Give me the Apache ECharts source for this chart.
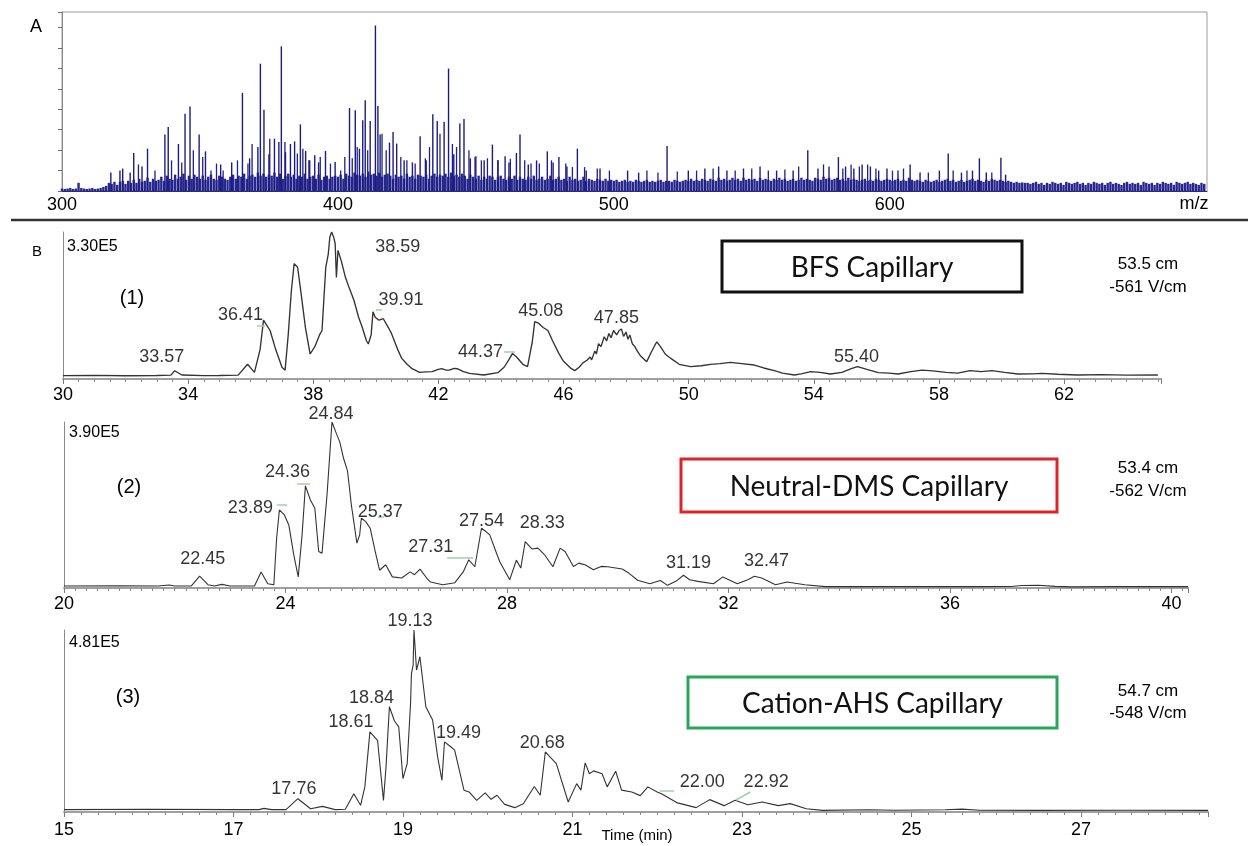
<!DOCTYPE html>
<html>
<head>
<meta charset="utf-8">
<script src="https://cdn.jsdelivr.net/npm/echarts@6/dist/echarts.min.js"></script>
<style>
  html, body { margin: 0; padding: 0; background: #fff; }
  #chart { width: 1248px; height: 846px; }
</style>
</head>
<body>
<div id="chart"></div>
<script>
// ---------- A: mass spectrum (intensity in tick divisions) ----------
const mzTicks = [300, 400, 500, 600];

// background "grass", one value per unit m/z
const noise300 = [.12,.1,.12,.15,.1,.12,.4,.15,.12,.1, .12,.15,.1,.12,.15,.2,.25,.4,.35,.45, .3,.45,.5,.35,.5,.4,.55,.4,.6,.45, .5,.65,.45,.6,.5,.55,.7,.5,.75,.6, .55,.8,.6,.7,.85,.55,.75,.6,.8,.7];
const noise350 = [.6,.75,.55,.7,.8,.6,.55,.75,.7,.6, .55,.7,.8,.6,.75,.7,.85,.6,.75,.8, .7,.9,.75,.85,.7,.8,.75,.9,.7,.85, .6,.75,.85,.7,.8,.6,.75,.7,.85,.6, .7,.75,.6,.8,.55,.7,.75,.6,.7,.75];
const noise400 = [.7,.8,.6,.85,.75,.7,.9,.8,.75,.85, .7,.95,.8,.85,.75,.9,.7,.8,.85,.75, .6,.8,.7,.75,.6,.85,.7,.75,.6,.8, .75,.7,.8,.6,.75,.85,.7,.8,.75,.85, .7,.9,.75,.8,.7,.85,.75,.6,.8,.7];
const noise450 = [.6,.75,.55,.7,.6,.75,.7,.55,.7,.75, .6,.55,.7,.6,.75,.55,.7,.6,.55,.7, .6,.75,.55,.6,.7,.55,.6,.75,.55,.6, .7,.55,.6,.5,.7,.55,.6,.5,.55,.7, .5,.6,.55,.5,.6,.55,.5,.6,.5,.55];
const noise500 = [.5,.55,.45,.5,.55,.45,.5,.45,.55,.5, .45,.5,.55,.45,.5,.45,.5,.55,.45,.5, .5,.45,.55,.5,.45,.5,.55,.5,.6,.5, .55,.5,.6,.55,.5,.6,.55,.5,.65,.55, .6,.5,.55,.65,.55,.6,.5,.65,.55,.6];
const noise550 = [.55,.6,.5,.65,.55,.6,.55,.5,.6,.55, .65,.55,.6,.5,.55,.6,.5,.55,.65,.55, .6,.55,.5,.65,.6,.55,.7,.6,.65,.55, .6,.65,.55,.6,.5,.65,.55,.6,.55,.5, .55,.6,.5,.55,.5,.6,.55,.5,.55,.6];
const noise600 = [.55,.5,.55,.6,.5,.55,.5,.65,.55,.5, .55,.5,.45,.55,.5,.45,.5,.55,.45,.5, .55,.6,.5,.55,.45,.5,.55,.45,.5,.55, .6,.5,.55,.5,.45,.55,.5,.6,.55,.5, .55,.5,.45,.5,.45,.4,.45,.4,.42,.4];
const noise650 = [.4,.35,.4,.45,.35,.4,.3,.4,.35,.45, .4,.35,.4,.3,.45,.4,.35,.4,.45,.35, .4,.3,.4,.35,.45,.4,.35,.4,.3,.4, .45,.35,.4,.35,.3,.4,.45,.35,.4,.35, .4,.3,.45,.4,.35,.4,.3,.4,.35,.45, .4,.35,.4,.3,.45,.4,.35,.4,.45,.35, .4,.35,.3,.4,.35];

// resolved ion peaks
const peakMz = [317.7,321,322,324.7,326,329,331,337.3,338.5,342.2,344.6,346.4,349.7,352,357.5,361.5,365.4,368,371,371.9,373.2,375,377,378.6,379.5,381,382.8,384.3,386.4,388.3,389.5,391.6,393,395.5,399,404.2,406.3,407.8,409,409.9,411.7,413.6,414.5,415.3,418.7,420,421.3,424,427,429.8,432,434.4,436,438.5,440.1,442,444.2,445.7,448,450,453,456,458,460.6,462,464.7,466,469,472,475.9,478,480.1,483,486.8,490,495,505,509,519.3,527,533,538,541,547,553,559,565,570.3,574,578,581.4,584,587,590,593,596,599,603,607.4,611,618,621.2,626,630,632.5,635,640.3,642];
const peakIntensity = [0.9,1.0,1.1,0.9,1.86,1.2,2.07,2.76,3.13,2.3,3.78,4.14,2.76,1.94,1.3,1.4,4.8,1.6,2.15,6.23,3.98,1.8,2.56,2.4,7.08,1.9,2.3,2.43,3.26,1.96,1.5,1.75,1.4,1.96,1.42,4.06,3.95,2.07,3.46,4.44,3.43,8.1,4.16,2.76,2.37,2.89,2.32,1.5,1.4,2.68,1.5,3.75,3.43,3.39,5.99,1.8,3.3,3.52,1.6,1.7,1.5,2.27,1.5,1.7,1.4,1.86,2.76,1.3,1.5,1.94,1.4,1.66,1.2,2.07,1.0,1.1,1.0,0.9,2.2,1.0,1.1,1.2,1.0,1.1,1.2,1.0,1.0,2.0,1.1,1.2,1.66,1.2,1.1,1.3,1.2,1.0,1.1,1.0,1.3,0.9,1.0,1.83,0.9,1.0,1.6,0.9,1.63,0.8];

// smaller spikes rising out of the grass
const minorMz = [327.7,333.7,339.7,343.4,347.6,351,354,356,358.4,363.6,367.4,368.9,375.3,380.8,385.3,387.3,389.8,393.6,397.3,401,402.5,405.2,407,410.8,416,417.5,422.8,425,428,431.7,433.2,437,441.5,443,447.5,449.7,452,454.2,458,462.5,467.7,470,473,477.4,482.6,485,489.4,494,498.4,512,516,523,530,536,544,550,556,562,567,576,583,586,589,592,595,601,605,614,623,628,637];
const minorIntensity = [1.3,1.0,1.5,1.4,2.0,1.66,1.0,1.34,1.0,1.5,1.34,2.3,2.56,2.4,1.83,2.07,1.5,1.66,1.34,1.0,1.66,1.6,2.15,2.0,2.8,2.0,1.66,1.5,1.34,1.6,2.15,2.8,2.3,2.15,2.0,1.66,1.5,1.6,1.5,1.58,1.5,1.34,1.34,1.5,1.34,1.17,1.17,1.1,1.0,1.0,0.9,0.95,1.0,1.1,1.0,1.1,1.0,1.05,1.2,1.3,1.1,1.3,1.2,1.3,1.1,1.0,1.1,0.9,1.0,1.0,0.9];

// ---------- B: electropherograms (signal in % of full scale) ----------
// (1) BFS capillary
const bfsTime = [30.0,31.0,32.0,33.0,33.45,33.57,33.8,34.5,35.0,35.6,35.9,36.12,36.3,36.41,36.5,36.62,36.8,37.0,37.1,37.2,37.3,37.39,37.5,37.6,37.75,37.9,38.05,38.2,38.28,38.4,38.48,38.53,38.59,38.66,38.7,38.74,38.79,38.9,39.03,39.15,39.3,39.45,39.56,39.7,39.76,39.85,39.91,39.98,40.1,40.24,40.4,40.5,40.7,40.83,41.0,41.16,41.4,41.6,41.8,42.0,42.1,42.25,42.35,42.5,42.6,42.8,43.0,43.45,43.9,44.1,44.25,44.37,44.5,44.7,44.85,45.0,45.08,45.2,45.35,45.5,45.65,45.85,46.0,46.24,46.36,46.5,46.62,46.76,46.85,46.9,47.0,47.05,47.12,47.2,47.3,47.38,47.45,47.52,47.6,47.7,47.78,47.85,47.92,48.0,48.06,48.12,48.2,48.28,48.36,48.45,48.55,48.66,48.8,48.98,49.1,49.25,49.43,49.7,50.06,50.4,50.7,51.0,51.34,51.7,52.1,52.4,52.74,53.0,53.38,53.6,53.9,54.2,54.53,54.9,55.2,55.4,55.7,56.06,56.4,56.7,57.1,57.46,57.8,58.23,58.6,59.0,59.35,59.7,60.1,60.53,61.0,61.3,61.8,62.44,63.2,64.0,65.0];
const bfsSignal = [2.3,2.5,2.2,2.4,2.6,5.6,2.7,2.3,2.4,2.6,10,4.5,20,40,37,33,20,8,6,30,60,78.5,76,60,35,17,22,30,33,76,85,96.6,100,96,92,69,87.5,80,69,62,53.6,42,35.5,26,23.8,30,45.7,42,40,41,35,31,20,14,10,7,4.5,4.8,5,6.5,7,6,6,7.2,7,5,3.8,2.7,4.3,8,13,17.4,15,10,8.4,25,39,38,35,33,26,17.4,12,7.2,5.7,8,11,12.9,15,13,19,17,24,22,28.7,26,31,28,33,30,33,34,29,32,27,30,24,22,19,16,14,11.8,18,25.3,22,17,14,10,8.4,9,10,10.5,11.3,10.5,9.5,7.5,5.7,4,2.7,3.5,5,4.5,3.4,4.5,7,8.4,6.5,4.3,4,3.4,5,6,5.5,4.5,4,5.7,5,5.7,4.5,3.4,3.5,3.8,3.2,2.7,3,2.6,2.7];
const bfsPeaks = [33.57, 36.41, 38.59, 39.91, 44.37, 45.08, 47.85, 55.40];

// (2) Neutral-DMS capillary
const dmsTime = [20.0,21.0,21.7,21.9,22.0,22.3,22.45,22.6,22.72,22.85,23.0,23.44,23.56,23.68,23.79,23.84,23.89,23.98,24.06,24.15,24.23,24.3,24.36,24.45,24.53,24.6,24.66,24.75,24.84,24.92,24.98,25.05,25.12,25.19,25.29,25.34,25.37,25.45,25.53,25.62,25.7,25.81,25.93,26.1,26.25,26.33,26.43,26.55,26.62,26.84,27.06,27.21,27.31,27.42,27.54,27.62,27.69,27.8,27.87,28.05,28.17,28.25,28.33,28.45,28.56,28.68,28.83,28.96,29.05,29.2,29.3,29.42,29.56,29.7,29.82,30.08,30.2,30.36,30.58,30.77,30.9,31.05,31.19,31.3,31.45,31.73,31.9,32.16,32.35,32.47,32.6,32.85,33.06,33.38,33.75,34.5,35.5,36.5,37.1,37.3,37.6,37.9,38.2,39.0,40.3];
const dmsSignal = [1.2,1.3,1.2,1.8,1.2,1.3,7.1,2,1.2,2.2,1.2,1.2,9.7,2.6,2,30,47,44,38,20,6.7,32,61.5,53,48,22,21,56,100,93,88,78,70.6,50,27,32,42,40,36,22,10.7,14,6.7,6,9.7,8,11.4,6,3.6,2,3.2,9.7,17,12.8,36,34,32,22,15.8,5,16.8,12,28,23.5,24,20,12.8,24,22,13,15,13.8,11,13,12.8,11.4,9,4.7,2.6,4.5,1.6,4,7.7,5,4,2.6,6.7,2.6,5,7.1,6,2,3.6,2,0.8,0.8,0.9,0.8,0.9,1.5,1.7,1.0,0.7,0.8,0.8];
const dmsPeaks = [22.45, 23.89, 24.36, 24.84, 25.37, 27.31, 27.54, 28.33, 31.19, 32.47];

// (3) Cation-AHS capillary
const ahsTime = [15.0,16.0,17.0,17.3,17.36,17.45,17.62,17.76,17.91,18.05,18.2,18.32,18.42,18.5,18.55,18.61,18.7,18.77,18.8,18.84,18.9,18.95,19.0,19.05,19.09,19.1,19.12,19.13,19.16,19.2,19.27,19.35,19.41,19.46,19.49,19.56,19.61,19.72,19.78,19.87,19.97,20.04,20.11,20.2,20.32,20.42,20.55,20.62,20.68,20.74,20.81,20.95,21.05,21.1,21.15,21.2,21.25,21.35,21.41,21.51,21.58,21.7,21.8,21.89,22.0,22.05,22.24,22.46,22.62,22.79,22.92,23.07,23.24,23.43,23.57,23.76,23.95,24.5,24.8,25.4,25.6,25.8,26.5,27.5,28.5];
const ahsSignal = [1.3,1.5,1.3,1.3,2,1.3,1.3,7.3,1.8,3.1,1.3,1.5,10,3.7,13.8,44,39.4,6.4,24.8,57.8,50,46.8,18.3,26.6,60,76,80.7,100,78,85.3,57.8,50.5,30,17.4,38.5,36,34,12,11,6.4,10.5,7,9.2,4.2,2.4,4.5,14,9.2,33,30,26.6,5.5,15.6,12,27,21,22.6,21,13.8,22.4,12,11,9,13.8,11,10,5,2.4,6.8,3.5,6.4,4,5.5,3.5,4.6,1.8,0.9,1.2,1.0,1.2,1.6,1.0,0.9,1.0,0.9];
const ahsPeaks = [17.76, 18.61, 18.84, 19.13, 19.49, 20.68, 22.00, 22.92];

// ---------- layout ----------
const numFont = '"Liberation Sans", Arial, Helvetica, sans-serif';
const boxFont = 'Lato, "Open Sans", sans-serif';
const traceColor = '#333333';
const leaderColor = '#9ed2a9';

// pixel offsets of each peak label from its peak
const bfsLabelOffset = [[-13,-14],[-23,-5],[66,15],[28,-12],[-32,-1],[6,-11],[-5,-11],[-1,-10]];
const dmsLabelOffset = [[3,-17],[-29,-2],[-18,-14],[-1,-8],[19,-6],[-38,-13],[0,-7],[17,-18],[5,-12],[12,-15]];
const ahsLabelOffset = [[-4,-10],[-19,-10],[-18,-9],[-4,-9],[14,-9],[-3,-9],[45,-10],[31,-18]];

// short leader strokes from labels to peaks, in data units [[t1,v1],[t2,v2]]
const bfsLeaders = [[[36.2,36],[36.46,36]],[[40.0,47],[40.2,47]],[[44.1,18.4],[44.45,18.4]]];
const dmsLeaders = [[[23.85,50],[24.03,50]],[[24.21,62.7],[24.44,62.7]],[[25.67,43],[25.78,43]],[[26.92,18],[27.39,18]]];
const ahsLeaders = [[[22.03,11.5],[22.2,11.5]],[[22.93,6.6],[23.1,11]]];

const panels = [
  { time: bfsTime, signal: bfsSignal, peaks: bfsPeaks, offsets: bfsLabelOffset, leaders: bfsLeaders,
    min: 30, max: 65.1, interval: 4, minor: 8, labelMargin: 7, width: 1.35,
    grid: { left: 63, top: 232, width: 1098, height: 147 } },
  { time: dmsTime, signal: dmsSignal, peaks: dmsPeaks, offsets: dmsLabelOffset, leaders: dmsLeaders,
    min: 20, max: 40.3, interval: 4, minor: 20, labelMargin: 7, width: 1.1,
    grid: { left: 64, top: 422, width: 1124, height: 166 } },
  { time: ahsTime, signal: ahsSignal, peaks: ahsPeaks, offsets: ahsLabelOffset, leaders: ahsLeaders,
    min: 15, max: 28.5, interval: 2, minor: 10, labelMargin: 9, width: 1.1,
    grid: { left: 64, top: 630, width: 1144, height: 182 } }
];

// ---------- build ----------
const noise = [].concat(noise300, noise350, noise400, noise450, noise500, noise550, noise600, noise650);
const noiseData = noise.map((v, i) => [300 + i, v]);
const peakData = peakMz.map((m, i) => [m, peakIntensity[i]]);
const minorData = minorMz.map((m, i) => [m, minorIntensity[i]]);

function onInterval(v, min, interval) {
  const k = (v - min) / interval;
  return Math.abs(k - Math.round(k)) < 1e-6;
}

const grids = [{ left: 62, top: 12, width: 1145, height: 179, show: true, borderColor: '#9a9a9a', borderWidth: 1 }];

// spectrum: visible m/z axis plus two hidden twins, so each bar layer keeps its own bar spacing
const mzAxis = {
  gridIndex: 0, type: 'value', min: 300, max: 715, interval: 100,
  axisLine: { lineStyle: { color: '#2a2a80', width: 1 } },
  axisTick: { show: false },
  axisLabel: { fontFamily: numFont, fontSize: 18, color: '#000', margin: 5,
    formatter: v => (mzTicks.indexOf(v) >= 0 ? String(v) : '') },
  splitLine: { show: false }
};
const hiddenMzAxis = { gridIndex: 0, type: 'value', min: 300, max: 715, show: false, splitLine: { show: false } };
const xAxes = [mzAxis, Object.assign({}, hiddenMzAxis), Object.assign({}, hiddenMzAxis)];
const yAxes = [{
  gridIndex: 0, type: 'value', min: 0, max: 8.76, interval: 1,
  axisLine: { show: true, lineStyle: { color: '#8a8a8a' } },
  axisTick: { show: true, length: 4, lineStyle: { color: '#6a6a6a' } },
  axisLabel: { show: false }, splitLine: { show: false }
}];
const spectrumBar = (axis, data, w, color) => ({
  type: 'bar', xAxisIndex: axis, yAxisIndex: 0, data: data, barWidth: w,
  itemStyle: { color: color }, silent: true, animation: false
});
const series = [
  spectrumBar(0, noiseData, 2.4, '#27278e'),
  spectrumBar(1, minorData, 1.3, '#202086'),
  spectrumBar(2, peakData, 1.4, '#1c1c80')
];

panels.forEach((p, k) => {
  const gi = k + 1;
  const xi = xAxes.length;
  const yi = yAxes.length;
  grids.push(Object.assign({ show: false }, p.grid));
  xAxes.push({
    gridIndex: gi, type: 'value', min: p.min, max: p.max, interval: p.interval,
    axisLine: { lineStyle: { color: '#a0a0a0', width: 2 } },
    axisTick: { show: true, length: 5, lineStyle: { color: '#7a7a7a' } },
    minorTick: { show: true, splitNumber: p.minor, length: 3, lineStyle: { color: '#8a8a8a' } },
    axisLabel: { fontFamily: numFont, fontSize: 18, color: '#000', margin: p.labelMargin,
      formatter: v => (onInterval(v, p.min, p.interval) ? String(v) : '') },
    splitLine: { show: false }, minorSplitLine: { show: false }
  });
  yAxes.push({
    gridIndex: gi, type: 'value', min: 0, max: 100,
    axisLine: { show: true, lineStyle: { color: '#8a8a8a', width: 1 } },
    axisTick: { show: false }, axisLabel: { show: false }, splitLine: { show: false }
  });
  const pts = p.time.map((t, i) => [t, p.signal[i]]);
  series.push({
    type: 'line', xAxisIndex: xi, yAxisIndex: yi, data: pts, showSymbol: false, symbol: 'none',
    lineStyle: { color: traceColor, width: p.width }, silent: true, animation: false,
    markLine: {
      silent: true, symbol: 'none', label: { show: false },
      lineStyle: { color: leaderColor, width: 1.5, type: 'solid' },
      data: p.leaders.map(l => [{ coord: l[0] }, { coord: l[1] }])
    }
  });
  const labelData = p.peaks.map((t, i) => {
    const j = p.time.findIndex(x => Math.abs(x - t) < 1e-9);
    return { value: [t, p.signal[j]], label: { offset: p.offsets[i] } };
  });
  series.push({
    type: 'scatter', xAxisIndex: xi, yAxisIndex: yi, data: labelData, symbolSize: 1,
    itemStyle: { color: 'rgba(0,0,0,0)' }, clip: false, silent: true, animation: false, z: 5,
    label: { show: true, position: 'inside', align: 'center', verticalAlign: 'middle',
      fontFamily: numFont, fontSize: 18, color: '#000',
      formatter: d => d.value[0].toFixed(2) }
  });
});

function txt(text, x, y, size) {
  return {
    type: 'text', x: x, y: y, silent: true,
    style: { text: text, font: size + 'px ' + numFont, fill: '#000',
      align: 'center', verticalAlign: 'middle', textAlign: 'center', textVerticalAlign: 'middle' }
  };
}
function leftTxt(text, x, y, size) {
  const t = txt(text, x, y, size);
  t.style.align = 'left'; t.style.textAlign = 'left';
  return t;
}
function box(x, y, w, h, color, label) {
  return [
    { type: 'rect', silent: true, shape: { x: x, y: y, width: w, height: h },
      style: { fill: '#fff', stroke: color, lineWidth: 3 } },
    { type: 'text', silent: true, x: x + w / 2, y: y + h / 2 + 1,
      style: { text: label, font: '28px ' + boxFont, fill: '#111',
        align: 'center', verticalAlign: 'middle', textAlign: 'center', textVerticalAlign: 'middle' } }
  ];
}

const graphics = [
  txt('A', 36, 27, 18),
  txt('m/z', 1194, 204, 18),
  { type: 'line', silent: true, shape: { x1: 11, y1: 220, x2: 1248, y2: 220 },
    style: { stroke: '#333', lineWidth: 2.5 } },
  txt('B', 37, 252, 15),
  leftTxt('3.30E5', 67, 247, 16),
  txt('(1)', 132, 298, 20),
  leftTxt('3.90E5', 69, 433, 16),
  txt('(2)', 129, 487, 20),
  leftTxt('4.81E5', 69, 643, 16),
  txt('(3)', 128, 697, 20),
  txt('53.5 cm', 1148, 264, 17), txt('-561 V/cm', 1148, 287, 17),
  txt('53.4 cm', 1148, 468, 17), txt('-562 V/cm', 1148, 491, 17),
  txt('54.7 cm', 1148, 691, 17), txt('-548 V/cm', 1148, 713, 17),
  txt('Time (min)', 637, 836, 15)
].concat(
  box(722, 241, 300, 51, '#111', 'BFS Capillary'),
  box(681, 459, 376, 53, '#e0232b', 'Neutral-DMS Capillary'),
  box(688, 677, 369, 51, '#2aa65a', 'Cation-AHS Capillary')
);

const chart = echarts.init(document.getElementById('chart'), null, { renderer: 'canvas' });
chart.setOption({
  backgroundColor: '#fff',
  animation: false,
  grid: grids,
  xAxis: xAxes,
  yAxis: yAxes,
  series: series,
  graphic: { elements: graphics }
});
</script>
</body>
</html>
